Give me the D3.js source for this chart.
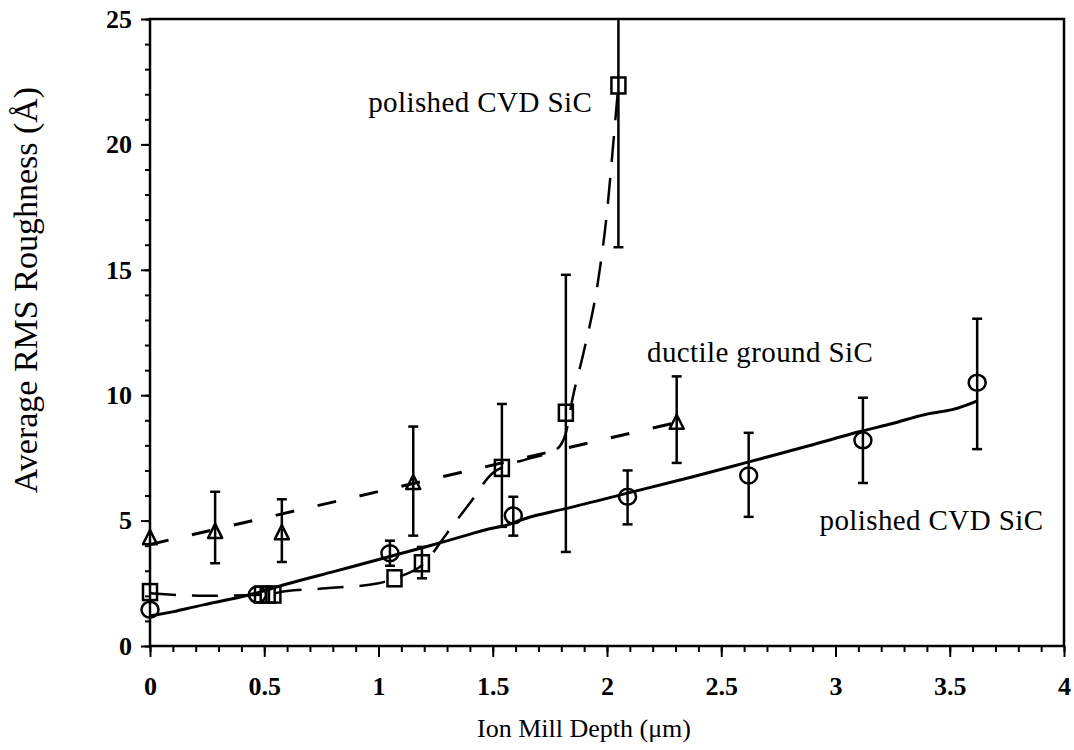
<!DOCTYPE html>
<html>
<head>
<meta charset="utf-8">
<script src="https://cdn.jsdelivr.net/npm/d3@7"></script>
<style>
  body { margin: 0; background: #fff; }
  svg { display: block; }
  .tick text { font-family: "Liberation Serif", serif; font-weight: bold; font-size: 26px; fill: #000; }
  .domain { display: none; }
  .tick line { stroke: #000; stroke-width: 2; }
</style>
</head>
<body>
<svg id="chart" width="1074" height="750"></svg>
<script>
// RMS roughness vs ion mill depth
const width = 1074;
const height = 750;

const xMajor = [0, 0.5, 1, 1.5, 2, 2.5, 3, 3.5, 4];
const xLabels = ["0", "0.5", "1", "1.5", "2", "2.5", "3", "3.5", "4"];
const yMajor = [0, 5, 10, 15, 20, 25];

// [x, y, low, high]  (null = no error bar)
const circles = [
    [0, 1.45, null, null],
    [0.47, 2.05, null, null],
    [1.05, 3.7, 3.2, 4.2],
    [1.59, 5.2, 4.4, 5.95],
    [2.09, 5.95, 4.85, 7.0],
    [2.62, 6.8, 5.15, 8.5],
    [3.12, 8.2, 6.5, 9.9],
    [3.62, 10.5, 7.85, 13.05]
];
const triangles = [
    [0, 4.3, null, null],
    [0.285, 4.55, 3.3, 6.15],
    [0.577, 4.5, 3.35, 5.85],
    [1.152, 6.5, 4.4, 8.75],
    [2.305, 8.9, 7.3, 10.75]
];
const squares = [
    [0, 2.15, null, null],
    [0.49, 2.05, null, null],
    [0.515, 2.05, null, null],
    [0.54, 2.05, null, null],
    [1.07, 2.7, null, null],
    [1.19, 3.3, 2.7, 3.95],
    [1.54, 7.1, 4.75, 9.65],
    [1.82, 9.3, 3.75, 14.8],
    [2.05, 22.35, 15.9, 28.8]
];

// fitted curves
const circleFit = [
    [0, 1.2], [0.1, 1.35], [0.22, 1.63], [0.45, 2.03], [0.58, 2.45], [0.8, 2.95],
    [1.04, 3.55], [1.24, 4.03], [1.39, 4.43], [1.5, 4.72], [1.56, 4.78], [1.65, 5.15],
    [1.8, 5.42], [2.09, 6.1], [2.38, 6.75], [2.62, 7.34], [2.89, 7.99], [3.12, 8.6],
    [3.25, 8.85], [3.4, 9.29], [3.51, 9.37], [3.62, 9.77]
];
const triangleFit = [[0, 4.05], [2.3, 8.9]];
const squareFit = [
    [0, 2.1], [0.25, 2.0], [0.5, 2.05], [0.6, 2.19], [0.77, 2.3], [1.0, 2.5], [1.07, 2.7],
    [1.2, 3.3], [1.3, 4.5], [1.4, 5.7], [1.5, 6.9], [1.56, 7.2], [1.65, 7.45], [1.78, 7.85],
    [1.82, 8.5], [1.85, 9.9], [1.9, 11.8], [1.96, 14.5], [2.0, 17.3], [2.03, 20.3], [2.05, 22.4]
];

const seriesLabels = [
    { text: "polished CVD SiC", x: 0.955, y: 21.3 },
    { text: "ductile ground SiC", x: 2.175, y: 11.33 },
    { text: "polished CVD SiC", x: 2.93, y: 4.63 }
];

const x = d3.scaleLinear().domain([0, 4]).range([150, 1064]);
const y = d3.scaleLinear().domain([0, 25]).range([646, 19]);

const svg = d3.select("#chart");
svg.append("rect").attr("width", width).attr("height", height).attr("fill", "#fff");

svg.append("defs").append("clipPath").attr("id", "plot")
    .append("rect").attr("x", 150).attr("y", 19).attr("width", 914).attr("height", 627);

// minor ticks
svg.append("g")
    .attr("transform", `translate(0,${y(0)})`)
    .call(d3.axisBottom(x).tickValues(d3.range(0, 41).map(d => d / 10)).tickSize(6).tickFormat(""));
svg.append("g")
    .attr("transform", `translate(${x(0)},0)`)
    .call(d3.axisLeft(y).tickValues(d3.range(0, 26)).tickSize(5).tickFormat(""));

// major ticks
svg.append("g")
    .attr("transform", `translate(0,${y(0)})`)
    .call(d3.axisBottom(x).tickValues(xMajor).tickSize(11).tickPadding(20)
        .tickFormat((d, i) => xLabels[i]));
svg.append("g")
    .attr("transform", `translate(${x(0)},0)`)
    .call(d3.axisLeft(y).tickValues(yMajor).tickSize(9).tickPadding(9));

// frame
svg.append("rect")
    .attr("x", x(0)).attr("y", y(25))
    .attr("width", x(4) - x(0)).attr("height", y(0) - y(25))
    .attr("fill", "none").attr("stroke", "#000").attr("stroke-width", 2.5);

const plot = svg.append("g").attr("clip-path", "url(#plot)");

// fit lines
plot.append("path")
    .datum(circleFit)
    .attr("d", d3.line().x(d => x(d[0])).y(d => y(d[1])).curve(d3.curveBasis))
    .attr("fill", "none").attr("stroke", "#000").attr("stroke-width", 3);
plot.append("path")
    .datum(triangleFit)
    .attr("d", d3.line().x(d => x(d[0])).y(d => y(d[1])))
    .attr("fill", "none").attr("stroke", "#000").attr("stroke-width", 3)
    .attr("stroke-dasharray", "19,24");
plot.append("path")
    .datum(squareFit)
    .attr("d", d3.line().x(d => x(d[0])).y(d => y(d[1])).curve(d3.curveMonotoneX))
    .attr("fill", "none").attr("stroke", "#000").attr("stroke-width", 2.5)
    .attr("stroke-dasharray", "26,16");

// error bars
function drawErrors(data) {
    const withErr = data.filter(d => d[2] !== null);
    plot.append("g").selectAll("line")
        .data(withErr)
        .join("line")
        .attr("x1", d => x(d[0])).attr("x2", d => x(d[0]))
        .attr("y1", d => y(d[2])).attr("y2", d => y(d[3]))
        .attr("stroke", "#000").attr("stroke-width", 2.5);
    const caps = [];
    withErr.forEach(d => { caps.push([d[0], d[2]]); caps.push([d[0], d[3]]); });
    plot.append("g").selectAll("line")
        .data(caps)
        .join("line")
        .attr("x1", d => x(d[0]) - 5).attr("x2", d => x(d[0]) + 5)
        .attr("y1", d => y(d[1])).attr("y2", d => y(d[1]))
        .attr("stroke", "#000").attr("stroke-width", 2.5);
}
drawErrors(circles);
drawErrors(triangles);
drawErrors(squares);

// markers
svg.append("g").selectAll("ellipse")
    .data(circles)
    .join("ellipse")
    .attr("cx", d => x(d[0])).attr("cy", d => y(d[1]))
    .attr("rx", 8.5).attr("ry", 8)
    .attr("fill", "none").attr("stroke", "#000").attr("stroke-width", 2.5);

svg.append("g").selectAll("path")
    .data(triangles)
    .join("path")
    .attr("d", d => {
        const cx = x(d[0]), cy = y(d[1]);
        return `M${cx},${cy - 8}L${cx + 7},${cy + 6}L${cx - 7},${cy + 6}Z`;
    })
    .attr("fill", "none").attr("stroke", "#000").attr("stroke-width", 2.5)
    .attr("stroke-linejoin", "round");

svg.append("g").selectAll("rect")
    .data(squares)
    .join("rect")
    .attr("x", d => x(d[0]) - 7).attr("y", d => y(d[1]) - 8)
    .attr("width", 14).attr("height", 16)
    .attr("fill", "none").attr("stroke", "#000").attr("stroke-width", 2.5);

// series labels
svg.append("g").selectAll("text")
    .data(seriesLabels)
    .join("text")
    .attr("x", d => x(d.x)).attr("y", d => y(d.y))
    .attr("font-family", "Liberation Serif, serif")
    .attr("font-size", 29)
    .attr("letter-spacing", 0.4)
    .text(d => d.text);

// axis titles
svg.append("text")
    .attr("x", 584).attr("y", 737)
    .attr("text-anchor", "middle")
    .attr("font-family", "Liberation Serif, serif")
    .attr("font-size", 26)
    .text("Ion Mill Depth (\u03bcm)");

svg.append("text")
    .attr("transform", "translate(37,290) rotate(-90)")
    .attr("text-anchor", "middle")
    .attr("font-family", "Liberation Serif, serif")
    .attr("font-size", 34)
    .text("Average RMS Roughness (\u00c5)");
</script>
</body>
</html>
